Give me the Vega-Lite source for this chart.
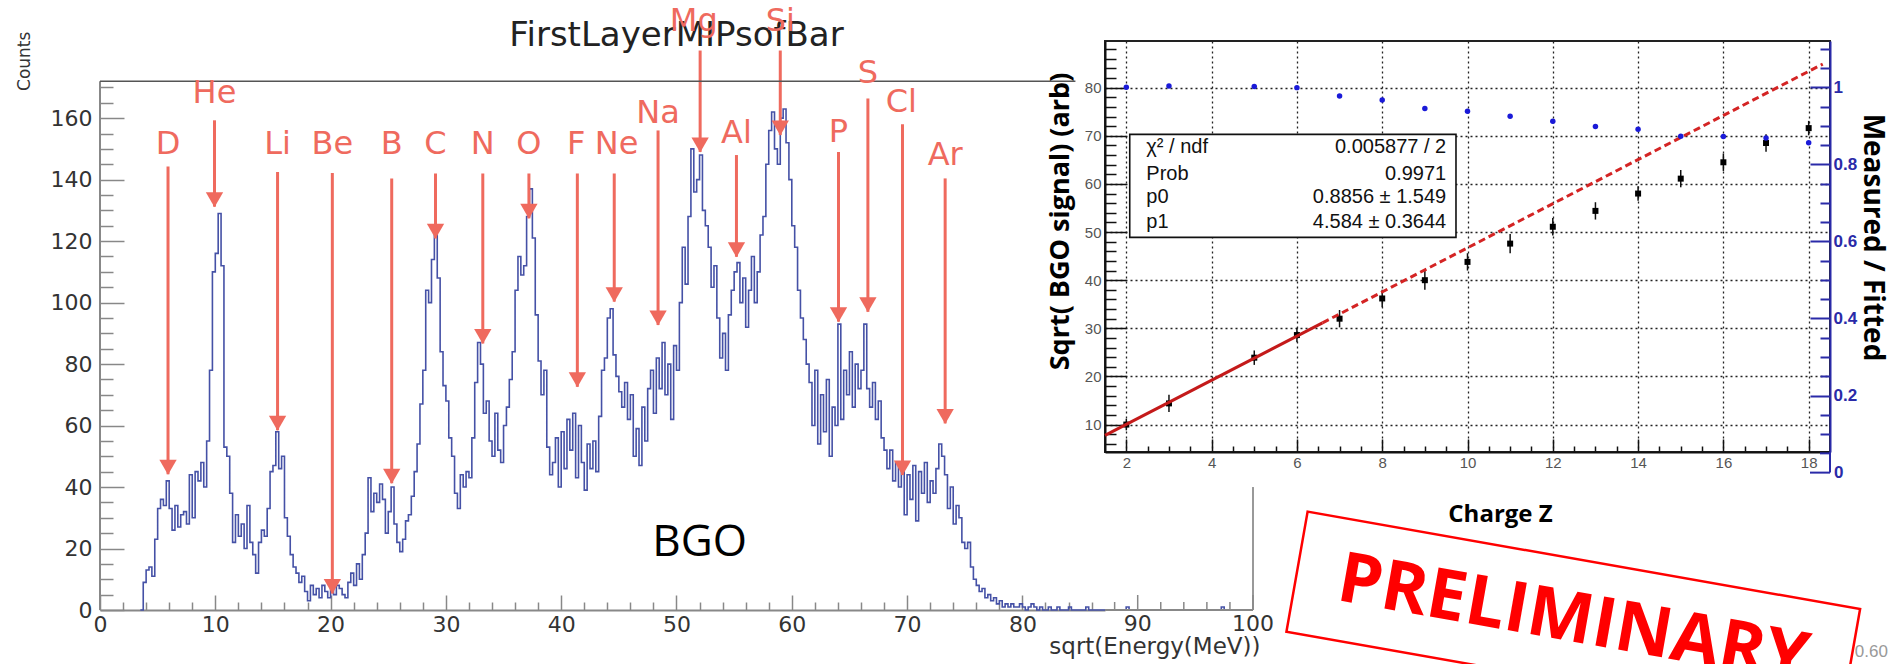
{
  "$schema": "https://vega.github.io/schema/vega-lite/v6.json",
  "padding": {"left": 16, "top": 5, "right": 20, "bottom": 0},
  "background": "white",
  "spacing": 0,
  "bounds": "flush",
  "config": {"view": {"stroke": null}},
  "datasets": {
    "hist": [
      {"e":3.5,"c":0},{"e":3.75,"c":9},{"e":4,"c":13},{"e":4.25,"c":14},{"e":4.5,"c":11},{"e":4.75,"c":23},{"e":5,"c":33},{"e":5.25,"c":36},{"e":5.5,"c":34},{"e":5.75,"c":42},
      {"e":6,"c":33},{"e":6.25,"c":26},{"e":6.5,"c":34},{"e":6.75,"c":27},{"e":7,"c":31},{"e":7.25,"c":32},{"e":7.5,"c":28},{"e":7.75,"c":44},{"e":8,"c":30},{"e":8.25,"c":45},
      {"e":8.5,"c":42},{"e":8.75,"c":48},{"e":9,"c":40},{"e":9.25,"c":55},{"e":9.5,"c":78},{"e":9.75,"c":110},{"e":10,"c":116},{"e":10.25,"c":129},{"e":10.5,"c":112},{"e":10.75,"c":53},
      {"e":11,"c":50},{"e":11.25,"c":38},{"e":11.5,"c":22},{"e":11.75,"c":31},{"e":12,"c":24},{"e":12.25,"c":28},{"e":12.5,"c":20},{"e":12.75,"c":34},{"e":13,"c":22},{"e":13.25,"c":18},
      {"e":13.5,"c":12},{"e":13.75,"c":22},{"e":14,"c":26},{"e":14.25,"c":24},{"e":14.5,"c":33},{"e":14.75,"c":45},{"e":15,"c":47},{"e":15.25,"c":58},{"e":15.5,"c":46},{"e":15.75,"c":50},
      {"e":16,"c":30},{"e":16.25,"c":24},{"e":16.5,"c":18},{"e":16.75,"c":14},{"e":17,"c":12},{"e":17.25,"c":9},{"e":17.5,"c":11},{"e":17.75,"c":6},{"e":18,"c":3},{"e":18.25,"c":8},
      {"e":18.5,"c":5},{"e":18.75,"c":7},{"e":19,"c":4},{"e":19.25,"c":8},{"e":19.5,"c":6},{"e":19.75,"c":4},{"e":20,"c":7},{"e":20.25,"c":5},{"e":20.5,"c":8},{"e":20.75,"c":7},
      {"e":21,"c":5},{"e":21.25,"c":4},{"e":21.5,"c":9},{"e":21.75,"c":12},{"e":22,"c":8},{"e":22.25,"c":15},{"e":22.5,"c":10},{"e":22.75,"c":18},{"e":23,"c":25},{"e":23.25,"c":43},
      {"e":23.5,"c":32},{"e":23.75,"c":38},{"e":24,"c":35},{"e":24.25,"c":41},{"e":24.5,"c":36},{"e":24.75,"c":25},{"e":25,"c":32},{"e":25.25,"c":40},{"e":25.5,"c":28},{"e":25.75,"c":22},
      {"e":26,"c":19},{"e":26.25,"c":23},{"e":26.5,"c":29},{"e":26.75,"c":31},{"e":27,"c":37},{"e":27.25,"c":45},{"e":27.5,"c":54},{"e":27.75,"c":67},{"e":28,"c":78},{"e":28.25,"c":104},
      {"e":28.5,"c":100},{"e":28.75,"c":114},{"e":29,"c":122},{"e":29.25,"c":108},{"e":29.5,"c":84},{"e":29.75,"c":73},{"e":30,"c":68},{"e":30.25,"c":56},{"e":30.5,"c":50},{"e":30.75,"c":38},
      {"e":31,"c":33},{"e":31.25,"c":44},{"e":31.5,"c":40},{"e":31.75,"c":45},{"e":32,"c":43},{"e":32.25,"c":56},{"e":32.5,"c":74},{"e":32.75,"c":87},{"e":33,"c":80},{"e":33.25,"c":64},
      {"e":33.5,"c":68},{"e":33.75,"c":55},{"e":34,"c":50},{"e":34.25,"c":64},{"e":34.5,"c":52},{"e":34.75,"c":48},{"e":35,"c":60},{"e":35.25,"c":66},{"e":35.5,"c":75},{"e":35.75,"c":84},
      {"e":36,"c":104},{"e":36.25,"c":115},{"e":36.5,"c":109},{"e":36.75,"c":112},{"e":37,"c":128},{"e":37.25,"c":137},{"e":37.5,"c":121},{"e":37.75,"c":96},{"e":38,"c":81},{"e":38.25,"c":70},
      {"e":38.5,"c":78},{"e":38.75,"c":53},{"e":39,"c":44},{"e":39.25,"c":48},{"e":39.5,"c":56},{"e":39.75,"c":40},{"e":40,"c":58},{"e":40.25,"c":46},{"e":40.5,"c":62},{"e":40.75,"c":52},
      {"e":41,"c":64},{"e":41.25,"c":43},{"e":41.5,"c":60},{"e":41.75,"c":48},{"e":42,"c":39},{"e":42.25,"c":54},{"e":42.5,"c":46},{"e":42.75,"c":55},{"e":43,"c":45},{"e":43.25,"c":63},
      {"e":43.5,"c":78},{"e":43.75,"c":82},{"e":44,"c":95},{"e":44.25,"c":98},{"e":44.5,"c":83},{"e":44.75,"c":76},{"e":45,"c":71},{"e":45.25,"c":66},{"e":45.5,"c":74},{"e":45.75,"c":62},
      {"e":46,"c":70},{"e":46.25,"c":50},{"e":46.5,"c":59},{"e":46.75,"c":47},{"e":47,"c":66},{"e":47.25,"c":55},{"e":47.5,"c":72},{"e":47.75,"c":78},{"e":48,"c":64},{"e":48.25,"c":82},
      {"e":48.5,"c":72},{"e":48.75,"c":87},{"e":49,"c":70},{"e":49.25,"c":80},{"e":49.5,"c":62},{"e":49.75,"c":86},{"e":50,"c":78},{"e":50.25,"c":100},{"e":50.5,"c":118},{"e":50.75,"c":106},
      {"e":51,"c":128},{"e":51.25,"c":150},{"e":51.5,"c":136},{"e":51.75,"c":140},{"e":52,"c":148},{"e":52.25,"c":130},{"e":52.5,"c":125},{"e":52.75,"c":118},{"e":53,"c":105},{"e":53.25,"c":112},
      {"e":53.5,"c":95},{"e":53.75,"c":82},{"e":54,"c":90},{"e":54.25,"c":78},{"e":54.5,"c":96},{"e":54.75,"c":104},{"e":55,"c":110},{"e":55.25,"c":113},{"e":55.5,"c":100},{"e":55.75,"c":108},
      {"e":56,"c":92},{"e":56.25,"c":104},{"e":56.5,"c":115},{"e":56.75,"c":100},{"e":57,"c":110},{"e":57.25,"c":122},{"e":57.5,"c":128},{"e":57.75,"c":145},{"e":58,"c":156},{"e":58.25,"c":162},
      {"e":58.5,"c":150},{"e":58.75,"c":145},{"e":59,"c":160},{"e":59.25,"c":163},{"e":59.5,"c":152},{"e":59.75,"c":140},{"e":60,"c":125},{"e":60.25,"c":118},{"e":60.5,"c":104},{"e":60.75,"c":95},
      {"e":61,"c":88},{"e":61.25,"c":80},{"e":61.5,"c":74},{"e":61.75,"c":60},{"e":62,"c":78},{"e":62.25,"c":54},{"e":62.5,"c":70},{"e":62.75,"c":58},{"e":63,"c":75},{"e":63.25,"c":50},
      {"e":63.5,"c":66},{"e":63.75,"c":60},{"e":64,"c":93},{"e":64.25,"c":62},{"e":64.5,"c":78},{"e":64.75,"c":70},{"e":65,"c":84},{"e":65.25,"c":66},{"e":65.5,"c":80},{"e":65.75,"c":72},
      {"e":66,"c":78},{"e":66.25,"c":93},{"e":66.5,"c":72},{"e":66.75,"c":66},{"e":67,"c":74},{"e":67.25,"c":62},{"e":67.5,"c":68},{"e":67.75,"c":56},{"e":68,"c":52},{"e":68.25,"c":46},
      {"e":68.5,"c":52},{"e":68.75,"c":42},{"e":69,"c":48},{"e":69.25,"c":40},{"e":69.5,"c":45},{"e":69.75,"c":31},{"e":70,"c":44},{"e":70.25,"c":36},{"e":70.5,"c":47},{"e":70.75,"c":29},
      {"e":71,"c":45},{"e":71.25,"c":38},{"e":71.5,"c":48},{"e":71.75,"c":35},{"e":72,"c":42},{"e":72.25,"c":38},{"e":72.5,"c":46},{"e":72.75,"c":54},{"e":73,"c":50},{"e":73.25,"c":44},
      {"e":73.5,"c":33},{"e":73.75,"c":40},{"e":74,"c":28},{"e":74.25,"c":34},{"e":74.5,"c":30},{"e":74.75,"c":22},{"e":75,"c":20},{"e":75.25,"c":22},{"e":75.5,"c":14},{"e":75.75,"c":10},
      {"e":76,"c":8},{"e":76.25,"c":6},{"e":76.5,"c":7},{"e":76.75,"c":4},{"e":77,"c":5},{"e":77.25,"c":3},{"e":77.5,"c":4},{"e":77.75,"c":2},{"e":78,"c":3},{"e":78.25,"c":1},
      {"e":78.5,"c":2},{"e":78.75,"c":1},{"e":79,"c":2},{"e":79.25,"c":1},{"e":79.5,"c":1},{"e":79.75,"c":2},{"e":80,"c":1},{"e":80.25,"c":0},{"e":80.5,"c":1},{"e":80.75,"c":2},
      {"e":81,"c":1},{"e":81.25,"c":0},{"e":81.5,"c":1},{"e":81.75,"c":0},{"e":82.25,"c":1},{"e":82.5,"c":0},{"e":83,"c":1},{"e":83.25,"c":0},{"e":84,"c":1},{"e":84.25,"c":0},
      {"e":85.5,"c":1},{"e":85.75,"c":0},{"e":89,"c":1},{"e":89.25,"c":0},{"e":97.25,"c":1},{"e":97.5,"c":0},{"e":100,"c":0}
    ],
    "arrows": [
      {"el":"D","x":5.9,"top":144.3,"tip":44.2,"lx":5.9,"ly":151.5},
      {"el":"He","x":9.93,"top":159.3,"tip":131.2,"lx":9.93,"ly":168.3},
      {"el":"Li","x":15.4,"top":142.5,"tip":58.5,"lx":15.4,"ly":151.5},
      {"el":"Be","x":20.15,"top":142.2,"tip":5.4,"lx":20.15,"ly":151.5},
      {"el":"B","x":25.3,"top":140.4,"tip":41.2,"lx":25.3,"ly":151.5},
      {"el":"C","x":29.1,"top":142,"tip":120.9,"lx":29.1,"ly":151.5},
      {"el":"N","x":33.2,"top":142,"tip":86.7,"lx":33.2,"ly":151.5},
      {"el":"O","x":37.2,"top":142,"tip":127.4,"lx":37.2,"ly":151.5},
      {"el":"F","x":41.4,"top":142,"tip":72.6,"lx":41.3,"ly":151.5},
      {"el":"Ne","x":44.6,"top":142,"tip":100.3,"lx":44.8,"ly":151.5},
      {"el":"Na","x":48.4,"top":156,"tip":92.7,"lx":48.4,"ly":161.8},
      {"el":"Mg","x":52.05,"top":182,"tip":149,"lx":51.5,"ly":191.5},
      {"el":"Al","x":55.2,"top":148,"tip":114.9,"lx":55.2,"ly":155.1},
      {"el":"Si","x":59.0,"top":182,"tip":154.5,"lx":59.0,"ly":191.5},
      {"el":"P","x":64.05,"top":149,"tip":93.8,"lx":64.05,"ly":155.5},
      {"el":"S","x":66.6,"top":166.4,"tip":97,"lx":66.6,"ly":174.7},
      {"el":"Cl","x":69.6,"top":158,"tip":43.9,"lx":69.5,"ly":165.3},
      {"el":"Ar","x":73.3,"top":140.4,"tip":60.7,"lx":73.3,"ly":148}
    ],
    "pts": [
      {"z":2,"v":10.0,"lo":8.8,"hi":11.2,"r":1.0},
      {"z":3,"v":14.4,"lo":12.6,"hi":16.2,"r":1.003},
      {"z":5,"v":23.9,"lo":22.4,"hi":25.4,"r":1.002},
      {"z":6,"v":28.6,"lo":27.1,"hi":30.1,"r":0.999},
      {"z":7,"v":32.0,"lo":30.2,"hi":33.8,"r":0.977},
      {"z":8,"v":36.2,"lo":34.4,"hi":38.0,"r":0.967},
      {"z":9,"v":40.0,"lo":38.0,"hi":42.0,"r":0.945},
      {"z":10,"v":43.8,"lo":42.0,"hi":45.6,"r":0.938},
      {"z":11,"v":47.6,"lo":45.6,"hi":49.6,"r":0.925},
      {"z":12,"v":51.1,"lo":49.3,"hi":52.9,"r":0.912},
      {"z":13,"v":54.4,"lo":52.6,"hi":56.2,"r":0.898},
      {"z":14,"v":58.0,"lo":56.5,"hi":59.5,"r":0.891},
      {"z":15,"v":61.1,"lo":59.3,"hi":62.9,"r":0.873},
      {"z":16,"v":64.5,"lo":62.7,"hi":66.3,"r":0.872},
      {"z":17,"v":68.5,"lo":66.7,"hi":70.3,"r":0.868},
      {"z":18,"v":71.6,"lo":70.1,"hi":73.1,"r":0.856}
    ],
    "stats": [
      {"t":"χ² / ndf","val":"0.005877 / 2","y":67.6},
      {"t":"Prob","val":"0.9971","y":62.1},
      {"t":"p0","val":"0.8856 ± 1.549","y":57.3},
      {"t":"p1","val":"4.584 ± 0.3644","y":52.1}
    ]
  },
  "hconcat": [
    {
      "width": 1005,
      "height": 569,
      "layer": [
        {
          "data": {"name": "hist"},
          "mark": {"type": "line", "interpolate": "step-after", "color": "#4551a6", "strokeWidth": 1.6},
          "encoding": {
            "x": {"field": "e", "type": "quantitative", "scale": {"domain": [0, 87.164], "nice": false, "zero": false},
              "axis": {"orient": "bottom", "values": [0,10,20,30,40,50,60,70,80], "format": "d",
                "labelFont": "DejaVu Sans", "labelFontSize": 22, "labelColor": "#333", "labelPadding": 19, "labelFlush": false,
                "tickSize": -15, "tickColor": "#888", "tickWidth": 1.5, "domainColor": "#888", "domainWidth": 2, "grid": false,
                "title": "sqrt(Energy(MeV))", "titleFont": "DejaVu Sans", "titleFontSize": 23, "titleFontWeight": "normal", "titleColor": "#333",
                "titleX": 1160, "titleY": 36, "titleAlign": "right", "titleBaseline": "middle"}},
            "y": {"field": "c", "type": "quantitative", "scale": {"domain": [0, 185.1], "nice": false, "zero": false},
              "axis": {"orient": "left", "values": [0,20,40,60,80,100,120,140,160], "format": "d",
                "labelFont": "DejaVu Sans", "labelFontSize": 22, "labelColor": "#333", "labelPadding": 32, "labelFlush": false,
                "tickSize": -24, "tickColor": "#888", "tickWidth": 1.5, "domain": false, "grid": false, "title": null}}
          }
        },
        {
          "data": {"name": "arrows"},
          "mark": {"type": "rule", "color": "#ef6a5e", "strokeWidth": 3},
          "encoding": {
            "x": {"field": "x", "type": "quantitative",
              "axis": {"orient": "bottom", "values": [2,4,6,8,12,14,16,18,22,24,26,28,32,34,36,38,42,44,46,48,52,54,56,58,62,64,66,68,72,74,76,78,82,84,86],
                "labels": false, "domain": false, "grid": false, "tickSize": -8, "tickColor": "#888", "tickWidth": 1.5, "title": null}},
            "y": {"field": "top", "type": "quantitative",
              "axis": {"orient": "left", "values": [5,10,15,25,30,35,45,50,55,65,70,75,85,90,95,105,110,115,125,130,135,145,150,155,165,170],
                "labels": false, "domain": false, "grid": false, "tickSize": -13, "tickColor": "#888", "tickWidth": 1.5, "title": null}},
            "y2": {"field": "tip"}
          }
        },
        {
          "data": {"values": [{}]},
          "mark": {"type": "text", "text": "Counts", "font": "DejaVu Sans", "fontSize": 17, "color": "#333", "align": "center", "baseline": "middle", "angle": 270},
          "encoding": {"x": {"datum": -6.5, "axis": null}, "y": {"datum": 178.5, "axis": null}}
        },
        {
          "data": {"values": [{}]},
          "mark": {"type": "rule", "color": "#888", "strokeWidth": 2},
          "encoding": {"x": {"datum": 0, "axis": null}, "y": {"datum": 0, "axis": null}, "y2": {"datum": 172}}
        },
        {
          "data": {"values": [{}]},
          "mark": {"type": "rule", "color": "#555", "strokeWidth": 1.5},
          "encoding": {"x": {"datum": 0, "axis": null}, "x2": {"datum": 84.6}, "y": {"datum": 172, "axis": null}}
        },
        {
          "data": {"values": [{}]},
          "mark": {"type": "rule", "color": "#999", "strokeWidth": 2},
          "encoding": {"x": {"datum": 100, "axis": null}, "y": {"datum": 0, "axis": null}, "y2": {"datum": 40}}
        },
        {
          "data": {"values": [{}]},
          "mark": {"type": "rule", "color": "#888", "strokeWidth": 2},
          "encoding": {"x": {"datum": 87.164, "axis": null}, "x2": {"datum": 100}, "y": {"datum": 0, "axis": null}}
        },
        {
          "data": {"values": [{"t": 88}, {"t": 92}, {"t": 94}, {"t": 96}, {"t": 98}]},
          "mark": {"type": "tick", "orient": "vertical", "size": 8, "thickness": 1.5, "yOffset": -4, "color": "#888", "opacity": 1},
          "encoding": {"x": {"field": "t", "type": "quantitative", "axis": null}, "y": {"datum": 0, "axis": null}}
        },
        {
          "data": {"values": [{"t": 90}, {"t": 100}]},
          "mark": {"type": "tick", "orient": "vertical", "size": 15, "thickness": 1.5, "yOffset": -7.5, "color": "#888", "opacity": 1},
          "encoding": {"x": {"field": "t", "type": "quantitative", "axis": null}, "y": {"datum": 0, "axis": null}}
        },
        {
          "data": {"values": [{"t": 90}, {"t": 100}]},
          "mark": {"type": "text", "font": "DejaVu Sans", "fontSize": 22, "color": "#333", "align": "center", "baseline": "top", "dy": 4},
          "encoding": {"x": {"field": "t", "type": "quantitative", "axis": null}, "y": {"datum": 0, "axis": null}, "text": {"field": "t"}}
        },
        {
          "data": {"values": [{}]},
          "mark": {"type": "text", "text": "FirstLayerMIPsofBar", "font": "DejaVu Sans", "fontSize": 34, "color": "#222", "align": "center", "baseline": "alphabetic"},
          "encoding": {"x": {"datum": 50.0, "axis": null}, "y": {"datum": 183.5, "axis": null}}
        },
        {
          "data": {"values": [{}]},
          "mark": {"type": "text", "text": "BGO", "font": "Open Sans", "fontSize": 44, "color": "#000", "align": "center", "baseline": "alphabetic"},
          "encoding": {"x": {"datum": 52.0, "axis": null}, "y": {"datum": 17.5, "axis": null}}
        },
        {
          "data": {"name": "arrows"},
          "mark": {"type": "point", "shape": "triangle-down", "filled": true, "color": "#ef6a5e", "opacity": 1, "size": 300, "yOffset": -7},
          "encoding": {"x": {"field": "x", "type": "quantitative", "axis": null}, "y": {"field": "tip", "type": "quantitative", "axis": null}}
        },
        {
          "data": {"name": "arrows"},
          "mark": {"type": "text", "font": "DejaVu Sans", "fontSize": 32, "color": "#ef6a5e", "align": "center", "baseline": "middle"},
          "encoding": {"x": {"field": "lx", "type": "quantitative", "axis": null}, "y": {"field": "ly", "type": "quantitative", "axis": null}, "text": {"field": "el"}}
        }
      ],
      "resolve": {"axis": {"x": "independent", "y": "independent"}}
    },
    {
      "width": 725,
      "height": 411,
      "view": {"stroke": "#222", "strokeWidth": 2},
      "layer": [
        {
          "layer": [
            {
              "data": {"name": "pts"},
              "mark": {"type": "rule", "color": "#111", "strokeWidth": 1.5},
              "encoding": {
                "x": {"field": "z", "type": "quantitative", "scale": {"domain": [1.5, 18.5], "nice": false, "zero": false},
                  "axis": {"orient": "bottom", "values": [2,4,6,8,10,12,14,16,18], "format": "d",
                    "labelFont": "Liberation Sans", "labelFontSize": 15, "labelColor": "#555", "labelPadding": 16, "labelFlush": false,
                    "tickSize": -13, "tickColor": "#111", "tickWidth": 1.5, "domainColor": "#111", "domainWidth": 2,
                    "grid": true, "gridColor": "#222", "gridDash": [2, 3], "gridWidth": 1.3,
                    "title": "Charge Z", "titleFont": "Open Sans", "titleFontSize": 24, "titleFontWeight": "bold", "titleColor": "#000",
                    "titleX": 395, "titleY": 62, "titleAlign": "center", "titleBaseline": "middle"}},
                "y": {"field": "lo", "type": "quantitative", "scale": {"domain": [4.3, 89.7], "nice": false, "zero": false},
                  "axis": {"orient": "left", "values": [10,20,30,40,50,60,70,80], "format": "d",
                    "labelFont": "Liberation Sans", "labelFontSize": 15, "labelColor": "#555", "labelPadding": 25, "labelFlush": false,
                    "tickSize": -21, "tickColor": "#111", "tickWidth": 1.5, "domainColor": "#111", "domainWidth": 2,
                    "grid": true, "gridColor": "#222", "gridDash": [2, 3], "gridWidth": 1.3,
                    "title": "Sqrt( BGO signal)  (arb)", "titleFont": "Open Sans", "titleFontSize": 27, "titleFontWeight": "bold", "titleColor": "#000",
                    "titleX": -45, "titleY": 180, "titleAngle": -90, "titleAlign": "center", "titleBaseline": "middle"}},
                "y2": {"field": "hi"}
              }
            },
            {
              "data": {"name": "pts"},
              "mark": {"type": "point", "shape": "square", "filled": true, "color": "#000", "opacity": 1, "size": 36},
              "encoding": {
                "x": {"field": "z", "type": "quantitative",
                  "axis": {"orient": "bottom", "values": [2.5,3,3.5,4.5,5,5.5,6.5,7,7.5,8.5,9,9.5,10.5,11,11.5,12.5,13,13.5,14.5,15,15.5,16.5,17,17.5],
                    "labels": false, "domain": false, "grid": false, "tickSize": -6, "tickColor": "#111", "tickWidth": 1.5, "title": null}},
                "y": {"field": "v", "type": "quantitative",
                  "axis": {"orient": "left", "values": [6,8,12,14,16,18,22,24,26,28,32,34,36,38,42,44,46,48,52,54,56,58,62,64,66,68,72,74,76,78,82,84,86,88],
                    "labels": false, "domain": false, "grid": false, "tickSize": -11, "tickColor": "#111", "tickWidth": 1.5, "title": null}}
              }
            },
            {
              "data": {"values": [{"z": 1.5, "v": 7.76}, {"z": 6.6, "v": 31.14}]},
              "mark": {"type": "line", "color": "#c41a1a", "strokeWidth": 3},
              "encoding": {"x": {"field": "z", "type": "quantitative", "axis": null}, "y": {"field": "v", "type": "quantitative", "axis": null}}
            },
            {
              "data": {"values": [{"z": 6.6, "v": 31.14}, {"z": 18.33, "v": 84.91}]},
              "mark": {"type": "line", "color": "#d42424", "strokeWidth": 3, "strokeDash": [7, 4]},
              "encoding": {"x": {"field": "z", "type": "quantitative", "axis": null}, "y": {"field": "v", "type": "quantitative", "axis": null}}
            },
            {
              "data": {"values": [{}]},
              "mark": {"type": "rect", "fill": "white", "stroke": "#111", "strokeWidth": 1.6},
              "encoding": {"x": {"datum": 2.08, "axis": null}, "x2": {"datum": 9.73}, "y": {"datum": 48.9, "axis": null}, "y2": {"datum": 70.3}}
            },
            {
              "data": {"name": "stats"},
              "mark": {"type": "text", "font": "Liberation Sans", "fontSize": 20, "color": "#111", "align": "left", "baseline": "middle"},
              "encoding": {"x": {"datum": 2.47, "axis": null}, "y": {"field": "y", "type": "quantitative", "axis": null}, "text": {"field": "t"}}
            },
            {
              "data": {"name": "stats"},
              "mark": {"type": "text", "font": "Liberation Sans", "fontSize": 20, "color": "#111", "align": "right", "baseline": "middle"},
              "encoding": {"x": {"datum": 9.5, "axis": null}, "y": {"field": "y", "type": "quantitative", "axis": null}, "text": {"field": "val"}}
            },
            {
              "data": {"values": [{}]},
              "mark": {"type": "point", "shape": "M-1,-0.2175L1,-0.2175L1,0.2175L-1,0.2175Z", "filled": false, "stroke": "#ff0000", "strokeWidth": 2.5, "opacity": 1, "size": 314721, "angle": 10},
              "encoding": {"x": {"datum": 12.48, "axis": null}, "y": {"datum": -30.7, "axis": null}}
            },
            {
              "data": {"values": [{}]},
              "mark": {"type": "text", "text": "PRELIMINARY", "font": "Open Sans", "fontWeight": "bold", "fontSize": 70, "color": "#ff0000", "align": "center", "baseline": "middle", "angle": 10},
              "encoding": {"x": {"datum": 12.48, "axis": null}, "y": {"datum": -30.7, "axis": null}}
            },
            {
              "data": {"values": [{}]},
              "mark": {"type": "text", "text": "0.60", "font": "Liberation Sans", "fontSize": 17, "color": "#999", "align": "center", "baseline": "middle"},
              "encoding": {"x": {"datum": 19.47, "axis": null}, "y": {"datum": -37.3, "axis": null}}
            }
          ],
          "resolve": {"axis": {"x": "independent", "y": "independent"}}
        },
        {
          "layer": [
            {
              "data": {"name": "pts"},
              "mark": {"type": "point", "shape": "circle", "filled": true, "color": "#1a1ad8", "opacity": 1, "size": 30},
              "encoding": {
                "x": {"field": "z", "type": "quantitative", "axis": null},
                "y": {"field": "r", "type": "quantitative", "scale": {"domain": [0.0535, 1.12], "nice": false, "zero": false},
                  "axis": {"orient": "right", "values": [0.2,0.4,0.6,0.8,1], "format": "~g",
                    "labelFont": "Liberation Sans", "labelFontSize": 17, "labelFontWeight": "bold", "labelColor": "#2a2aa8", "labelPadding": 23, "labelFlush": false,
                    "tickSize": -20, "tickColor": "#2a2aa8", "tickWidth": 2, "domainColor": "#2a2aa8", "domainWidth": 2, "grid": false,
                    "title": "Measured / Fitted", "titleFont": "Open Sans", "titleFontSize": 28, "titleFontWeight": "bold", "titleColor": "#000",
                    "titleX": 41, "titleY": 196, "titleAngle": 90, "titleAlign": "center", "titleBaseline": "middle"}}
              }
            },
            {
              "data": {"values": [{}]},
              "mark": {"type": "point", "opacity": 0},
              "encoding": {
                "x": {"datum": 18.5, "axis": null},
                "y": {"datum": 0.5, "type": "quantitative",
                  "axis": {"orient": "right", "values": [0.1,0.15,0.25,0.3,0.35,0.45,0.5,0.55,0.65,0.7,0.75,0.85,0.9,0.95,1.05,1.1],
                    "labels": false, "domain": false, "grid": false, "tickSize": -10, "tickColor": "#2a2aa8", "tickWidth": 2, "title": null}}
              }
            },
            {
              "data": {"values": [{}]},
              "mark": {"type": "rule", "color": "#2a2aa8", "strokeWidth": 2},
              "encoding": {"x": {"datum": 18.5, "axis": null}, "y": {"datum": 0, "axis": null}, "y2": {"datum": 0.0535}}
            },
            {
              "data": {"values": [{"t": 0}]},
              "mark": {"type": "tick", "orient": "horizontal", "size": 20, "thickness": 2, "xOffset": -10, "color": "#2a2aa8", "opacity": 1},
              "encoding": {"x": {"datum": 18.5, "axis": null}, "y": {"field": "t", "type": "quantitative", "axis": null}}
            },
            {
              "data": {"values": [{"t": 0.05}]},
              "mark": {"type": "tick", "orient": "horizontal", "size": 10, "thickness": 2, "xOffset": -5, "color": "#2a2aa8", "opacity": 1},
              "encoding": {"x": {"datum": 18.5, "axis": null}, "y": {"field": "t", "type": "quantitative", "axis": null}}
            },
            {
              "data": {"values": [{"t": 0}]},
              "mark": {"type": "text", "font": "Liberation Sans", "fontSize": 17, "fontWeight": "bold", "color": "#2a2aa8", "align": "left", "baseline": "middle", "dx": 4},
              "encoding": {"x": {"datum": 18.5, "axis": null}, "y": {"field": "t", "type": "quantitative", "axis": null}, "text": {"field": "t"}}
            }
          ],
          "resolve": {"axis": {"y": "independent"}}
        }
      ],
      "resolve": {"scale": {"y": "independent"}}
    }
  ]
}
